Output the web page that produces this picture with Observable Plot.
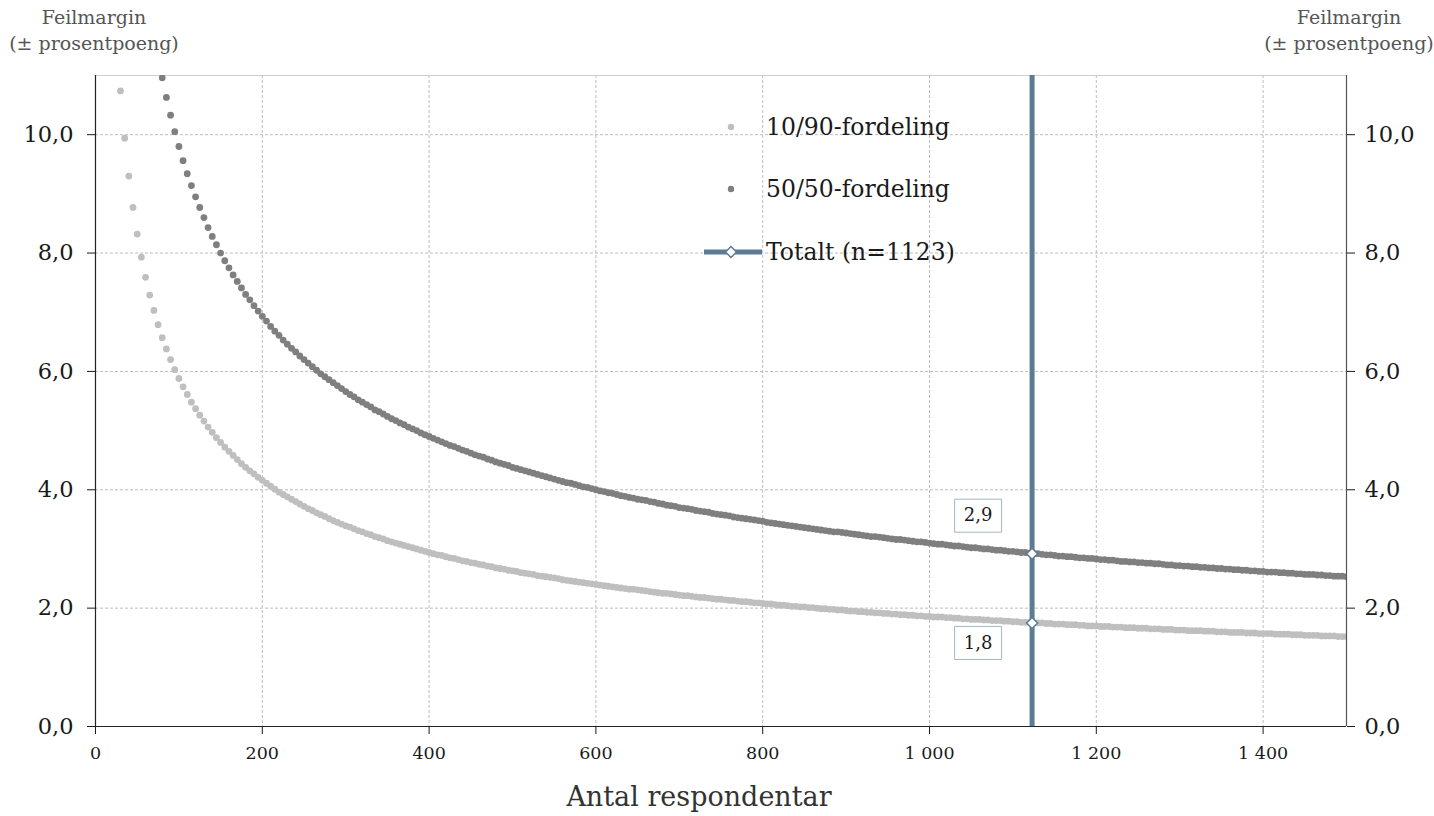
<!DOCTYPE html>
<html>
<head>
<meta charset="utf-8">
<script src="https://cdn.jsdelivr.net/npm/d3@7"></script>
<script src="https://cdn.jsdelivr.net/npm/@observablehq/plot@0.6"></script>
<style>
  html, body { margin: 0; padding: 0; background: #fff; }
  body { font-family: "DejaVu Serif", serif; }
  #wrap { position: relative; width: 1434px; height: 816px; overflow: hidden; }
  .ytitle { position: absolute; top: 4px; width: 200px; font-size: 19px; line-height: 26px; color: #555; text-align: center; }
  .xtitle { position: absolute; top: 781px; left: 499px; width: 400px; text-align: center; font-size: 27px; color: #333; }
  .lrow { position: absolute; left: 702px; height: 30px; display: flex; align-items: center; font-size: 23.5px; color: #1a1a1a; }
  .lrow svg { width: 62px; height: 30px; margin-right: 2px; }
</style>
</head>
<body>
<div id="wrap">
  <div id="chart"></div>
  <div class="ytitle" style="left:-6px">Feilmargin<br>(± prosentpoeng)</div>
  <div class="ytitle" style="left:1249px">Feilmargin<br>(± prosentpoeng)</div>
  <div class="xtitle">Antal respondentar</div>
  <div id="legend"></div>
</div>
<script>
// ---- Data ----
const respondents = [
  30,35,40,45,50,55,60,65,70,75,80,85,90,95,100,105,110,115,120,125,
  130,135,140,145,150,155,160,165,170,175,180,185,190,195,200,205,210,215,220,225,
  230,235,240,245,250,255,260,265,270,275,280,285,290,295,300,305,310,315,320,325,
  330,335,340,345,350,355,360,365,370,375,380,385,390,395,400,405,410,415,420,425,
  430,435,440,445,450,455,460,465,470,475,480,485,490,495,500,505,510,515,520,525,
  530,535,540,545,550,555,560,565,570,575,580,585,590,595,600,605,610,615,620,625,
  630,635,640,645,650,655,660,665,670,675,680,685,690,695,700,705,710,715,720,725,
  730,735,740,745,750,755,760,765,770,775,780,785,790,795,800,805,810,815,820,825,
  830,835,840,845,850,855,860,865,870,875,880,885,890,895,900,905,910,915,920,925,
  930,935,940,945,950,955,960,965,970,975,980,985,990,995,1000,1005,1010,1015,1020,1025,
  1030,1035,1040,1045,1050,1055,1060,1065,1070,1075,1080,1085,1090,1095,1100,1105,1110,1115,1120,1125,
  1130,1135,1140,1145,1150,1155,1160,1165,1170,1175,1180,1185,1190,1195,1200,1205,1210,1215,1220,1225,
  1230,1235,1240,1245,1250,1255,1260,1265,1270,1275,1280,1285,1290,1295,1300,1305,1310,1315,1320,1325,
  1330,1335,1340,1345,1350,1355,1360,1365,1370,1375,1380,1385,1390,1395,1400,1405,1410,1415,1420,1425,
  1430,1435,1440,1445,1450,1455,1460,1465,1470,1475,1480,1485,1490,1495,1500
];
const margin1090 = [
  10.74,9.94,9.30,8.77,8.32,7.93,7.59,7.29,7.03,6.79,6.57,6.38,6.20,6.03,5.88,5.74,5.61,5.48,5.37,5.26,
  5.16,5.06,4.97,4.88,4.80,4.72,4.65,4.58,4.51,4.44,4.38,4.32,4.27,4.21,4.16,4.11,4.06,4.01,3.96,3.92,
  3.88,3.84,3.80,3.76,3.72,3.68,3.65,3.61,3.58,3.55,3.51,3.48,3.45,3.42,3.39,3.37,3.34,3.31,3.29,3.26,
  3.24,3.21,3.19,3.17,3.14,3.12,3.10,3.08,3.06,3.04,3.02,3.00,2.98,2.96,2.94,2.92,2.90,2.89,2.87,2.85,
  2.84,2.82,2.80,2.79,2.77,2.76,2.74,2.73,2.71,2.70,2.68,2.67,2.66,2.64,2.63,2.62,2.60,2.59,2.58,2.57,
  2.55,2.54,2.53,2.52,2.51,2.50,2.48,2.47,2.46,2.45,2.44,2.43,2.42,2.41,2.40,2.39,2.38,2.37,2.36,2.35,
  2.34,2.33,2.32,2.32,2.31,2.30,2.29,2.28,2.27,2.26,2.25,2.25,2.24,2.23,2.22,2.21,2.21,2.20,2.19,2.18,
  2.18,2.17,2.16,2.15,2.15,2.14,2.13,2.13,2.12,2.11,2.11,2.10,2.09,2.09,2.08,2.07,2.07,2.06,2.05,2.05,
  2.04,2.03,2.03,2.02,2.02,2.01,2.01,2.00,1.99,1.99,1.98,1.98,1.97,1.97,1.96,1.95,1.95,1.94,1.94,1.93,
  1.93,1.92,1.92,1.91,1.91,1.90,1.90,1.89,1.89,1.88,1.88,1.87,1.87,1.86,1.86,1.85,1.85,1.85,1.84,1.84,
  1.83,1.83,1.82,1.82,1.81,1.81,1.81,1.80,1.80,1.79,1.79,1.79,1.78,1.78,1.77,1.77,1.76,1.76,1.76,1.75,
  1.75,1.75,1.74,1.74,1.73,1.73,1.73,1.72,1.72,1.72,1.71,1.71,1.70,1.70,1.70,1.69,1.69,1.69,1.68,1.68,
  1.68,1.67,1.67,1.67,1.66,1.66,1.66,1.65,1.65,1.65,1.64,1.64,1.64,1.63,1.63,1.63,1.62,1.62,1.62,1.62,
  1.61,1.61,1.61,1.60,1.60,1.60,1.59,1.59,1.59,1.59,1.58,1.58,1.58,1.57,1.57,1.57,1.57,1.56,1.56,1.56,
  1.56,1.55,1.55,1.55,1.54,1.54,1.54,1.54,1.53,1.53,1.53,1.53,1.52,1.52,1.52
];
const margin5050 = [
  17.89,16.57,15.50,14.61,13.86,13.21,12.65,12.16,11.71,11.32,10.96,10.63,10.33,10.05,9.80,9.56,9.34,9.14,8.95,8.77,
  8.60,8.43,8.28,8.14,8.00,7.87,7.75,7.63,7.52,7.41,7.30,7.21,7.11,7.02,6.93,6.85,6.76,6.68,6.61,6.53,
  6.46,6.39,6.33,6.26,6.20,6.14,6.08,6.02,5.96,5.91,5.86,5.81,5.76,5.71,5.66,5.61,5.57,5.52,5.48,5.44,
  5.40,5.35,5.32,5.28,5.24,5.20,5.17,5.13,5.10,5.06,5.03,5.00,4.96,4.93,4.90,4.87,4.84,4.81,4.78,4.75,
  4.73,4.70,4.67,4.65,4.62,4.59,4.57,4.55,4.52,4.50,4.47,4.45,4.43,4.41,4.38,4.36,4.34,4.32,4.30,4.28,
  4.26,4.24,4.22,4.20,4.18,4.16,4.14,4.12,4.11,4.09,4.07,4.05,4.04,4.02,4.00,3.98,3.97,3.95,3.94,3.92,
  3.90,3.89,3.87,3.86,3.84,3.83,3.82,3.80,3.79,3.77,3.76,3.74,3.73,3.72,3.70,3.69,3.68,3.67,3.65,3.64,
  3.63,3.62,3.60,3.59,3.58,3.57,3.56,3.54,3.53,3.52,3.51,3.50,3.49,3.48,3.47,3.45,3.44,3.43,3.42,3.41,
  3.40,3.39,3.38,3.37,3.36,3.35,3.34,3.33,3.32,3.31,3.30,3.29,3.29,3.28,3.27,3.26,3.25,3.24,3.23,3.22,
  3.21,3.21,3.20,3.19,3.18,3.17,3.16,3.16,3.15,3.14,3.13,3.12,3.12,3.11,3.10,3.09,3.08,3.08,3.07,3.06,
  3.05,3.05,3.04,3.03,3.02,3.02,3.01,3.00,3.00,2.99,2.98,2.98,2.97,2.96,2.96,2.95,2.94,2.94,2.93,2.92,
  2.92,2.91,2.90,2.90,2.89,2.88,2.88,2.87,2.87,2.86,2.85,2.85,2.84,2.84,2.83,2.82,2.82,2.81,2.81,2.80,
  2.79,2.79,2.78,2.78,2.77,2.77,2.76,2.76,2.75,2.75,2.74,2.73,2.73,2.72,2.72,2.71,2.71,2.70,2.70,2.69,
  2.69,2.68,2.68,2.67,2.67,2.66,2.66,2.65,2.65,2.64,2.64,2.63,2.63,2.62,2.62,2.61,2.61,2.61,2.60,2.60,
  2.59,2.59,2.58,2.58,2.57,2.57,2.57,2.56,2.56,2.55,2.55,2.54,2.54,2.54,2.53
];
const seriesNames = ["10/90-fordeling", "50/50-fordeling", "Totalt (n=1123)"];
const totalN = 1123;
const totalValues = [2.92, 1.75];        // 50/50 and 10/90 at n = 1123
const totalLabels = ["2,9", "1,8"];
const xTicks = [0, 200, 400, 600, 800, 1000, 1200, 1400];
const yTicks = [0, 2, 4, 6, 8, 10];

// ---- Styling ----
const colLight = "#bfbfbf";
const colDark = "#7f7f7f";
const colBlue = "#5d7c93";
const colBox = "#a2b5c6";

const locale = d3.formatLocale({decimal: ",", thousands: "\u00a0", grouping: [3], currency: ["", ""]});
const fmtX = locale.format(",d");
const fmtY = locale.format(".1f");

const d1090 = respondents.map((n, i) => ({n, v: margin1090[i]}));
const d5050 = respondents.map((n, i) => ({n, v: margin5050[i]}));
const marks = totalValues.map((v, i) => ({n: totalN, v, label: totalLabels[i]}));

const boxSymbol = {draw(ctx) { ctx.rect(-23.5, -16.5, 47, 33); }};

const chart = Plot.plot({
  width: 1434,
  height: 816,
  marginLeft: 95,
  marginRight: 88,
  marginTop: 75,
  marginBottom: 90,
  style: {fontFamily: '"DejaVu Serif", serif', color: "#1a1a1a", background: "transparent"},
  x: {domain: [0, 1500], label: null},
  y: {domain: [0, 11], label: null},
  marks: [
    Plot.gridX(xTicks.filter(d => d > 0), {stroke: "#bdbdbd", strokeOpacity: 1, strokeDasharray: "3,2"}),
    Plot.gridY(yTicks.filter(d => d > 0), {stroke: "#bdbdbd", strokeOpacity: 1, strokeDasharray: "3,2"}),
    Plot.ruleY([11], {stroke: "#cfcfcf"}),
    Plot.dot(d1090, {x: "n", y: "v", r: 3.4, fill: colLight, clip: true}),
    Plot.dot(d5050, {x: "n", y: "v", r: 3.4, fill: colDark, clip: true}),
    Plot.axisX({ticks: xTicks, tickFormat: fmtX, tickSize: 8, tickPadding: 12, fontSize: 17.5, label: null}),
    Plot.axisY({anchor: "left", ticks: yTicks, tickFormat: fmtY, tickSize: 8, tickPadding: 14, fontSize: 22.5, label: null}),
    Plot.axisY({anchor: "right", ticks: yTicks, tickFormat: fmtY, tickSize: 8, tickPadding: 10, fontSize: 22.5, label: null}),
    Plot.ruleX([0], {stroke: "#222", strokeWidth: 1.2}),
    Plot.ruleX([1500], {stroke: "#555", strokeWidth: 1.2}),
    Plot.ruleY([0], {stroke: "#222", strokeWidth: 1.2}),
    Plot.ruleX([totalN], {y1: 0, y2: 11, stroke: colBlue, strokeWidth: 5}),
    Plot.dot(marks, {x: "n", y: "v", symbol: "diamond2", r: 5, fill: "white", stroke: colBlue, strokeWidth: 1.5}),
    Plot.dot(marks.slice(0, 1), {x: "n", y: "v", symbol: boxSymbol, r: 5, fill: "white", stroke: colBox, strokeWidth: 1, dx: -54, dy: -38}),
    Plot.text(marks.slice(0, 1), {x: "n", y: "v", text: "label", dx: -54, dy: -38, fontSize: 18, fill: "#1a1a1a"}),
    Plot.dot(marks.slice(1), {x: "n", y: "v", symbol: boxSymbol, r: 5, fill: "white", stroke: colBox, strokeWidth: 1, dx: -54, dy: 20}),
    Plot.text(marks.slice(1), {x: "n", y: "v", text: "label", dx: -54, dy: 20, fontSize: 18, fill: "#1a1a1a"})
  ]
});
document.getElementById("chart").appendChild(chart);

// ---- Legend (inside the plot area) ----
const legend = document.getElementById("legend");
const rowsTop = [112, 174, 237];
const markerSvgs = [
  `<svg viewBox="0 0 62 30"><circle cx="29" cy="15" r="3.2" fill="${colLight}"/></svg>`,
  `<svg viewBox="0 0 62 30"><circle cx="29" cy="15" r="3.2" fill="${colDark}"/></svg>`,
  `<svg viewBox="0 0 62 30"><line x1="2" x2="60" y1="15" y2="15" stroke="${colBlue}" stroke-width="5"/><path d="M29,9.5L34.5,15L29,20.5L23.5,15Z" fill="white" stroke="${colBlue}" stroke-width="1.5"/></svg>`
];
seriesNames.forEach((name, i) => {
  const row = document.createElement("div");
  row.className = "lrow";
  row.style.top = rowsTop[i] + "px";
  row.innerHTML = markerSvgs[i] + `<span>${name}</span>`;
  legend.appendChild(row);
});
</script>
</body>
</html>
